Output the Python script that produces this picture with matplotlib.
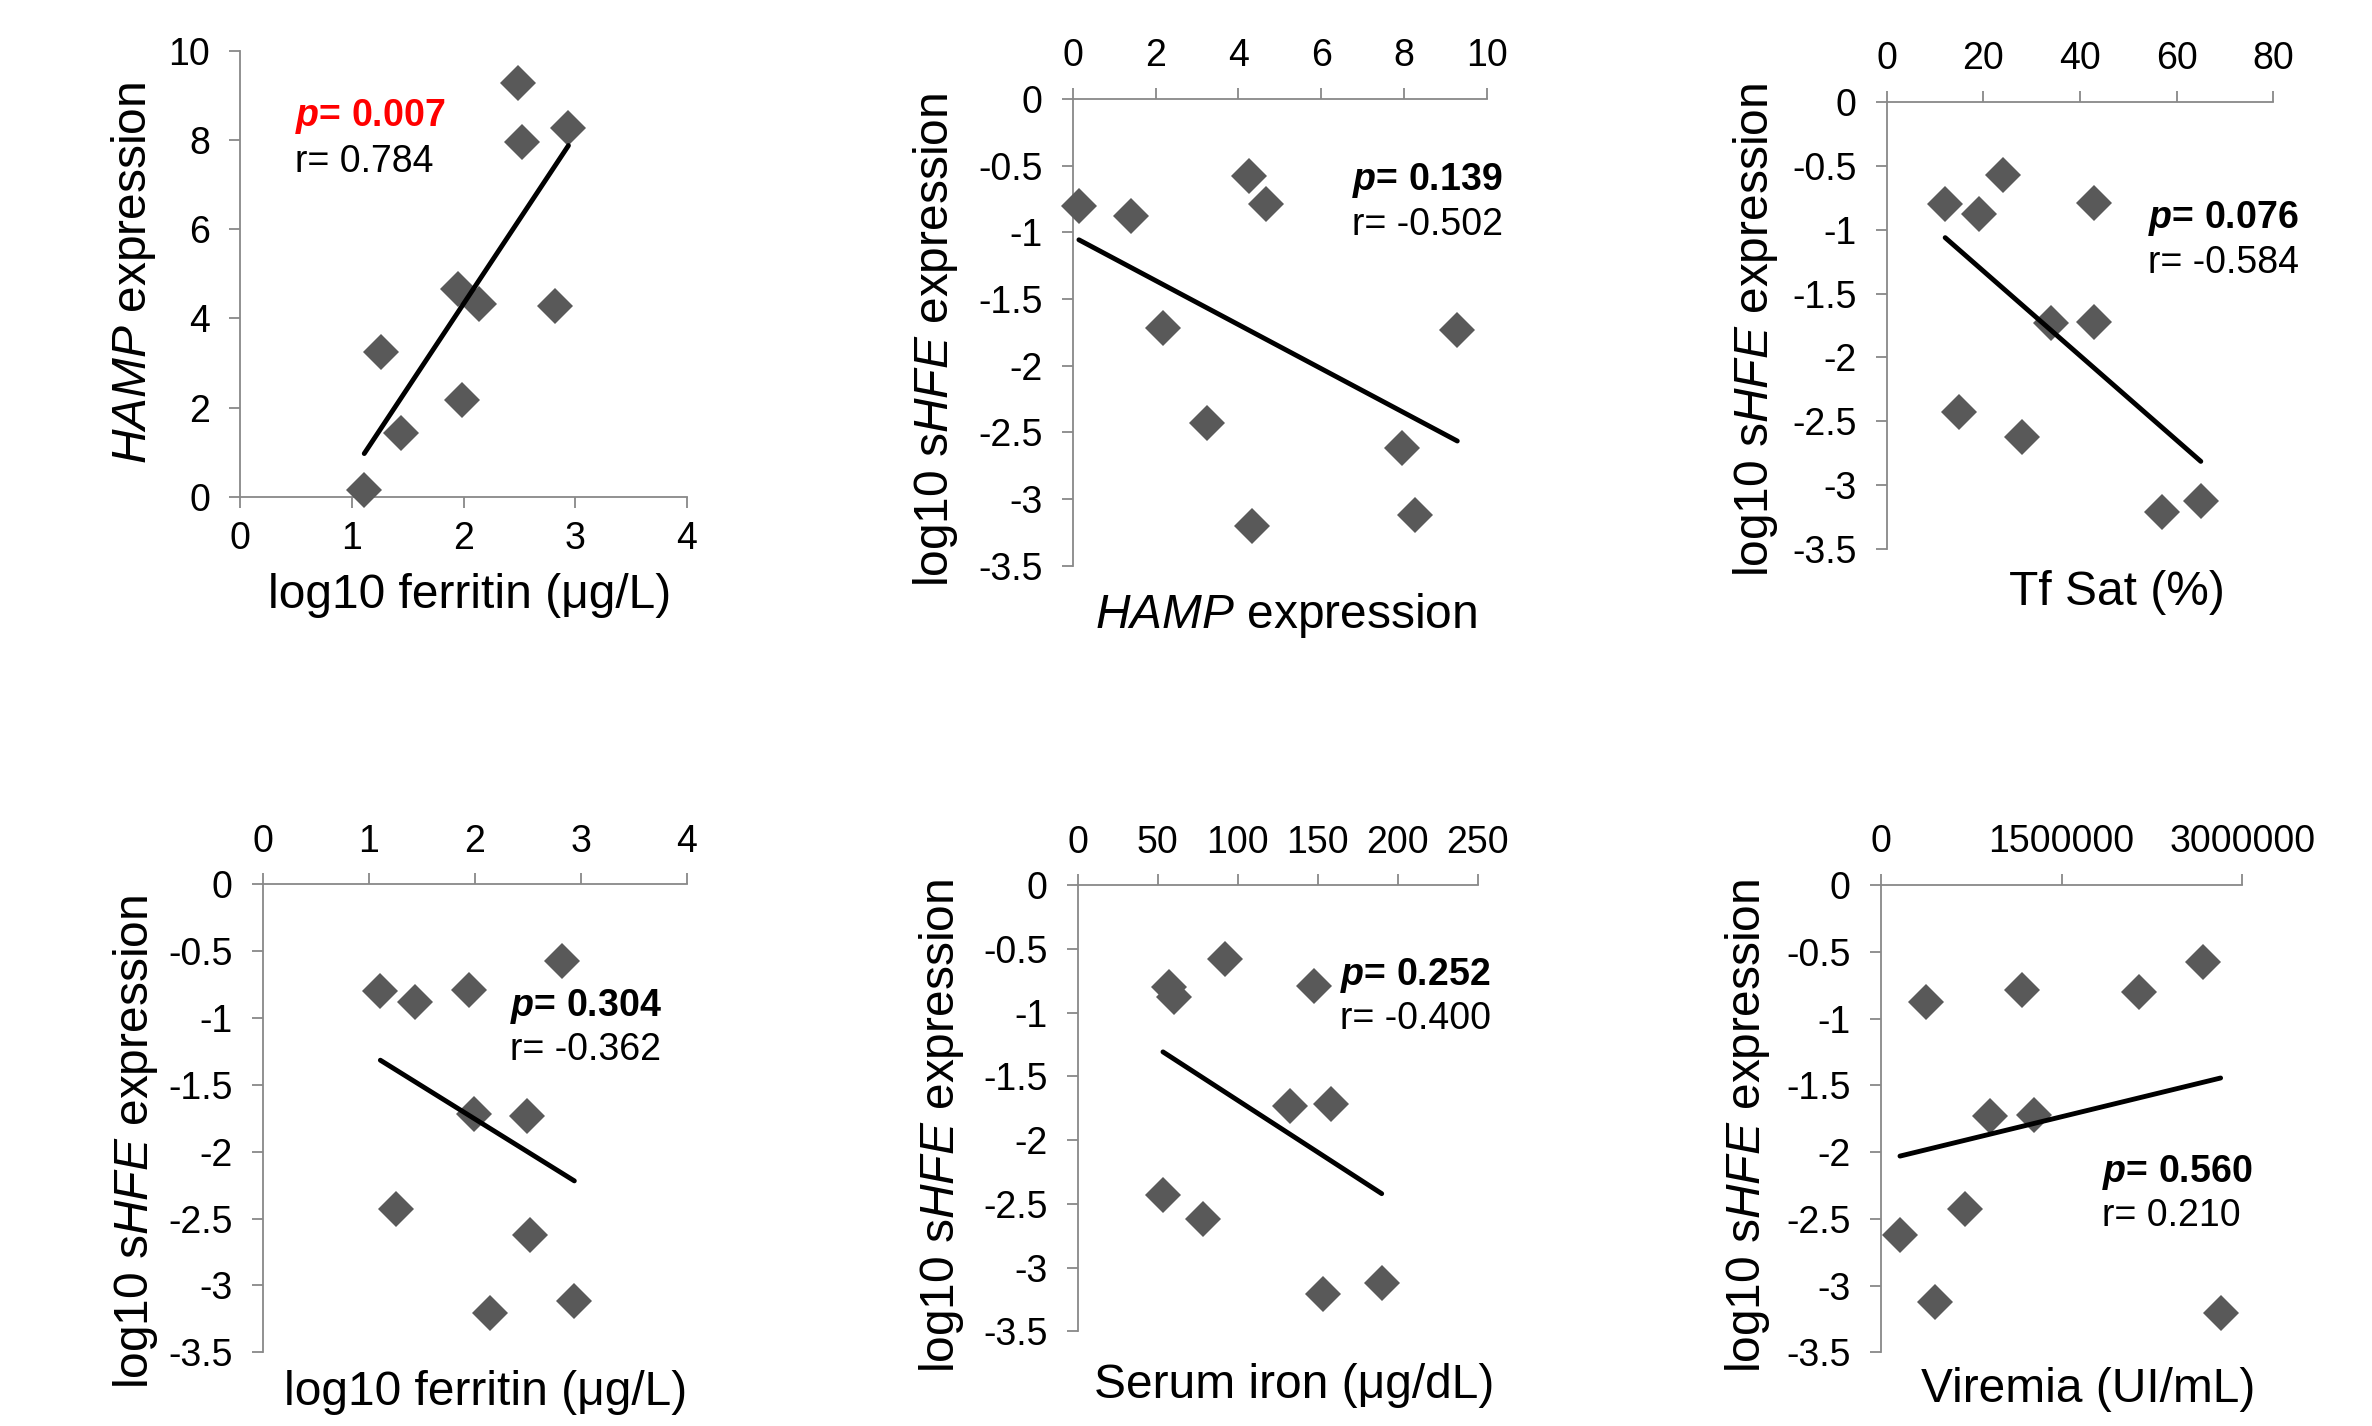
import numpy as np
import matplotlib
matplotlib.use("Agg")
import matplotlib.pyplot as plt

plt.rcParams['font.family'] = ['Liberation Sans', 'DejaVu Sans']
plt.rcParams['axes.unicode_minus'] = False
plt.rcParams['mathtext.fontset'] = 'custom'
plt.rcParams['mathtext.rm'] = 'Liberation Sans'
plt.rcParams['mathtext.it'] = 'Liberation Sans:italic'
plt.rcParams['mathtext.bf'] = 'Liberation Sans:bold'
try:
    plt.rcParams['mathtext.bfit'] = 'Liberation Sans:italic:bold'
except KeyError:
    pass

# ---- data (one entry per patient) ----
log_ferritin = [1.11, 1.44, 1.95, 2.82, 1.99, 2.49, 1.26, 2.52, 2.14, 2.94]
hamp_expr = [0.15, 1.42, 4.66, 4.27, 2.18, 9.29, 3.25, 7.95, 4.33, 8.28]
log_shfe = [-0.80, -0.88, -0.79, -0.575, -1.72, -1.73, -2.43, -2.62, -3.205, -3.12]
tf_sat = [12.1, 19.0, 43.0, 24.0, 43.0, 34.0, 15.0, 27.9, 56.9, 65.0]
serum_iron = [57.1, 60.0, 147.9, 92.1, 158.1, 132.7, 53.3, 78.1, 153.1, 190.0]
viremia = [2140000, 376000, 1175000, 2677000, 1275000, 904000, 697000, 160000, 2820000, 448000]

p_values = ["0.007", "0.139", "0.076", "0.304", "0.252", "0.560"]
r_values = ["0.784", "-0.502", "-0.584", "-0.362", "-0.400", "0.210"]

x_ticks_1 = [0, 1, 2, 3, 4]
x_ticks_2 = [0, 2, 4, 6, 8, 10]
x_ticks_3 = [0, 20, 40, 60, 80]
x_ticks_4 = [0, 1, 2, 3, 4]
x_ticks_5 = [0, 50, 100, 150, 200, 250]
x_ticks_6 = [0, 1500000, 3000000]
y_ticks_hamp = [0, 2, 4, 6, 8, 10]
y_ticks_shfe = [0, -0.5, -1, -1.5, -2, -2.5, -3, -3.5]

W, H = 2372, 1426
fig = plt.figure(figsize=(W / 100, H / 100), dpi=100)

def fx(x):
    return x / W

def fy(y):
    return 1 - y / H

GRAY = '#888888'
MARK = '#595959'

panels = [
    dict(x=log_ferritin, y=hamp_expr, xt=x_ticks_1, yt=y_ticks_hamp, box=(240.4, 686.7, 51, 496.7), top=False,
         xlab='log10 ferritin (μg/L)', ylab=r'$\mathit{HAMP}$ expression',
         xlpos=(470, 608), ylpos=(133, 273), ann=(295, 126, 171.7), red=True),
    dict(x=hamp_expr, y=log_shfe, xt=x_ticks_2, yt=y_ticks_shfe, box=(1072.7, 1486.7, 99, 565.7), top=True,
         xlab=r'$\mathit{HAMP}$ expression', ylab=r'log10 s$\mathit{HFE}$ expression',
         xlpos=(1286, 628), ylpos=(935, 340), ann=(1351.7, 190, 235), red=False),
    dict(x=tf_sat, y=log_shfe, xt=x_ticks_3, yt=y_ticks_shfe, box=(1886.7, 2273.3, 101.7, 549.3), top=True,
         xlab='Tf Sat (%)', ylab=r'log10 s$\mathit{HFE}$ expression',
         xlpos=(2117, 605), ylpos=(1755, 330), ann=(2148.3, 228.3, 272.7), red=False),
    dict(x=log_ferritin, y=log_shfe, xt=x_ticks_4, yt=y_ticks_shfe, box=(262.7, 686.7, 884.3, 1352.3), top=True,
         xlab='log10 ferritin (μg/L)', ylab=r'log10 s$\mathit{HFE}$ expression',
         xlpos=(486, 1405), ylpos=(136, 1142), ann=(510, 1016, 1060), red=False),
    dict(x=serum_iron, y=log_shfe, xt=x_ticks_5, yt=y_ticks_shfe, box=(1077.7, 1477.7, 885.3, 1331.3), top=True,
         xlab='Serum iron (μg/dL)', ylab=r'log10 s$\mathit{HFE}$ expression',
         xlpos=(1294, 1398), ylpos=(941, 1126), ann=(1340, 985, 1029), red=False),
    dict(x=viremia, y=log_shfe, xt=x_ticks_6, yt=y_ticks_shfe, box=(1880.7, 2242.3, 885, 1352.3), top=True,
         xlab='Viremia (UI/mL)', ylab=r'log10 s$\mathit{HFE}$ expression',
         xlpos=(2088, 1402), ylpos=(1747, 1126), ann=(2101.7, 1181.7, 1226), red=False),
]

for i, pnl in enumerate(panels):
    l, r, t, b = pnl['box']
    ax = fig.add_axes([fx(l), fy(b), (r - l) / W, (b - t) / H])
    xv = np.array(pnl['x'], dtype=float)
    yv = np.array(pnl['y'], dtype=float)
    ax.plot(xv, yv, linestyle='none', marker='D', ms=18.5, color=MARK, mew=0, zorder=3,
            clip_on=False)
    k, c = np.polyfit(xv, yv, 1)
    xs = np.array([xv.min(), xv.max()])
    ax.plot(xs, k * xs + c, color='black', lw=3.5, solid_capstyle='round', zorder=4)

    ax.set_xlim(pnl['xt'][0], pnl['xt'][-1])
    ax.set_ylim(min(pnl['yt']), max(pnl['yt']))
    ax.set_xticks(pnl['xt'])
    ax.set_yticks(pnl['yt'])
    ax.set_xticklabels([f'{v:g}' if abs(v) < 1e5 else f'{int(v)}' for v in pnl['xt']])
    ax.set_yticklabels([f'{v:g}' for v in pnl['yt']])
    for s in ax.spines.values():
        s.set_color(GRAY)
        s.set_linewidth(1.3)
    ax.spines['right'].set_visible(False)
    if pnl['top']:
        ax.spines['bottom'].set_visible(False)
        ax.xaxis.tick_top()
    else:
        ax.spines['top'].set_visible(False)
    ax.tick_params(axis='both', direction='out', length=7.7, width=1.3, color=GRAY,
                   labelsize=27, labelcolor='black')
    ax.tick_params(axis='x', pad=10)
    ax.tick_params(axis='y', pad=14)
    ax.set_facecolor('none')
    ax.patch.set_alpha(0)

    # axis labels
    xlx, xly = pnl['xlpos']
    fig.text(fx(xlx), fy(xly), pnl['xlab'], fontsize=34.5, ha='center', va='baseline')
    ylx, yly = pnl['ylpos']
    fig.text(fx(ylx), fy(yly), pnl['ylab'], fontsize=34.5, ha='center', va='center', rotation=90)

    # annotations
    axl, pb, rb = pnl['ann']
    col = '#FF0000' if pnl['red'] else 'black'
    fig.text(fx(axl), fy(pb), r'$\mathbfit{p}$= ' + p_values[i], fontsize=27, fontweight='bold',
             color=col, ha='left', va='baseline')
    fig.text(fx(axl), fy(rb), 'r= ' + r_values[i], fontsize=27, color='black', ha='left', va='baseline')

fig.savefig('out.png', dpi=100, facecolor='white')
